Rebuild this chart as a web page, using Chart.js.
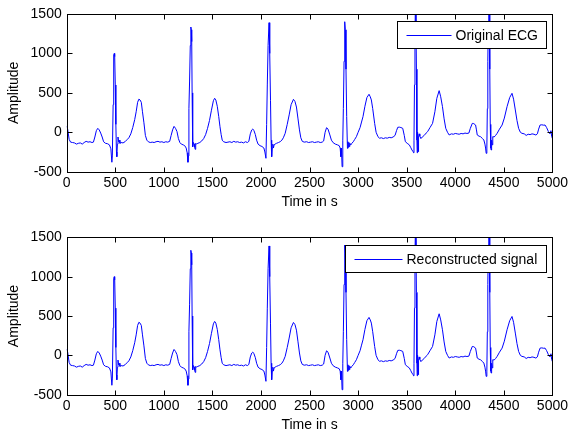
<!DOCTYPE html>
<html>
<head>
<meta charset="utf-8">
<script src="https://cdn.jsdelivr.net/npm/chart.js@4.4.0/dist/chart.umd.min.js"></script>
<style>
  body { margin: 0; background: #fff; }
  canvas { position: absolute; left: 0; }
</style>
</head>
<body>
<canvas id="topPlot" width="571" height="218" style="top:0"></canvas>
<canvas id="bottomPlot" width="571" height="218" style="top:218px"></canvas>
<script>
// sample positions (s)
const timeS = [
  0, 10, 25, 40, 60, 80, 100, 120, 140, 160, 180, 200, 220, 240, 260, 275, 290, 305, 320, 335, 350, 365, 380, 400, 420, 440, 455, 465, 470,
  478, 484, 490, 494, 500, 506, 512, 516, 522, 528, 534, 540, 548, 560, 580, 600, 620, 640, 660, 680, 700, 715, 730, 743, 755, 768, 780, 795, 810, 825, 840, 860, 880, 900, 920, 940, 960, 980, 1000, 1020, 1040, 1060, 1075, 1090, 1105, 1120, 1135, 1150, 1165, 1180, 1200, 1215, 1230, 1240, 1248, 1253,
  1258, 1265, 1272, 1278, 1283, 1287, 1291, 1295, 1299, 1305, 1312, 1318, 1322, 1328, 1335, 1350, 1370, 1390, 1410, 1430, 1450, 1470, 1490, 1510, 1523, 1535, 1550, 1565, 1578, 1590, 1601, 1615, 1640, 1660, 1680, 1700, 1720, 1740, 1760, 1780, 1800, 1820, 1840, 1860, 1875, 1890, 1905, 1915, 1928, 1942, 1955, 1970, 1990, 2010, 2030, 2040, 2051,
  2058, 2065, 2073, 2083, 2088, 2092, 2098, 2104, 2110, 2116, 2122, 2128, 2135, 2145, 2160, 2180, 2198, 2215, 2230, 2249, 2270, 2290, 2310, 2334, 2350, 2365, 2380, 2396, 2410, 2425, 2445, 2470, 2490, 2510, 2530, 2550, 2570, 2590, 2610, 2630, 2645, 2660, 2675, 2690, 2709, 2725, 2743, 2765, 2788, 2805, 2815, 2822, 2828, 2835,
  2842, 2848, 2855, 2862, 2868, 2875, 2882, 2890, 2895, 2900, 2905, 2910, 2915, 2925, 2935, 2950, 2965, 2982, 3000, 3020, 3035, 3050, 3070, 3090, 3112, 3125, 3136, 3150, 3170, 3185, 3204, 3220, 3240, 3260, 3280, 3300, 3320, 3340, 3360, 3380, 3395, 3408, 3425, 3440, 3459, 3475, 3486, 3505, 3527, 3540, 3554, 3563, 3571,
  3575, 3580, 3585, 3590, 3595, 3600, 3605, 3608, 3612, 3617, 3620, 3624, 3628, 3635, 3646, 3660, 3680, 3700, 3715, 3740, 3766, 3790, 3810, 3834, 3850, 3868, 3885, 3902, 3920, 3937, 3960, 3980, 4000, 4020, 4040, 4060, 4080, 4100, 4120, 4140, 4155, 4175, 4190, 4209, 4218, 4226, 4245, 4260, 4280, 4294, 4305, 4312, 4318, 4325,
  4330, 4335, 4340, 4345, 4350, 4355, 4360, 4365, 4369, 4374, 4380, 4386, 4400, 4415, 4431, 4455, 4482, 4505, 4533, 4560, 4584, 4600, 4618, 4635, 4652, 4670, 4686, 4710, 4730, 4750, 4770, 4790, 4810, 4830, 4845, 4858, 4873, 4890, 4910, 4924, 4940, 4959, 4975, 4985, 4992, 5000
];

const originalEcg = [
  80, 40, -90, -125, -130, -135, -150, -140, -135, -150, -130, -115, -125, -120, -130, -125, -60, 20, 50, 30, -10, -60, -120, -140, -145, -160, -210, -380, -300,
  350, 980, 1000, 960, 600, 100, -250, -310, -150, -60, -120, -100, -140, -130, -135, -120, -95, -70, -20, 60, 160, 260, 380, 420, 410, 380, 260, 120, -40, -100, -120, -130, -125, -130, -120, -115, -125, -120, -130, -120, -125, -115, -40, 30, 75, 50, 10, -80, -130, -150, -160, -170, -200, -260, -380, -300,
  300, 650, 1100, 1335, 1300, 1150, 500, -50, -184, -130, -150, -190, -216, -140, -150, -140, -130, -110, -80, -30, 50, 150, 280, 400, 431, 410, 330, 200, 70, -30, -100, -120, -130, -125, -120, -130, -115, -125, -120, -130, -125, -135, -120, -130, -115, -20, 30, 42, 20, -30, -100, -150, -170, -180, -200, -250, -330,
  100, 600, 1100, 1390, 1350, 1000, 400, -100, -310, -200, -150, -200, -160, -150, -140, -130, -119, -100, -70, -13, 100, 220, 350, 418, 390, 320, 180, 30, -70, -115, -125, -120, -130, -125, -120, -130, -125, -120, -130, -125, -110, 0, 58, 40, -34, -100, -132, -150, -160, -170, -200, -310, -200, -437,
  -100, 300, 900, 1402, 1300, 800, 200, -204, -120, -190, -130, -180, -140, -160, -140, -120, -90, -56, 0, 60, 130, 198, 330, 440, 482, 450, 410, 300, 113, 0, -56, -75, -70, -80, -70, -75, -65, -70, -60, -40, 20, 63, 65, 60, 50, -40, -119, -140, -160, -190, -225, -240, -260,
  -100, 600, 1250, 1650, 1400, 800, -100, -260, 0, -150, -246, -60, -20, -50, -80, -60, -40, -10, 8, 60, 113, 260, 430, 528, 450, 325, 170, 50, 0, -34, -20, -25, -15, -20, -25, -15, -20, -10, -15, -10, 50, 113, 110, 92, 30, -34, -50, -55, -80, -98, -150, -200, -267, -200,
  300, 900, 1400, 1650, 1500, 800, 100, -200, -225, -100, -160, -55, -60, -40, -13, 40, 92, 180, 325, 440, 494, 420, 283, 150, 50, 0, -13, -20, -40, -25, -30, -20, -25, -35, -20, 40, 92, 95, 90, 92, 60, 8, -20, 20, -50, -80
];

// the reconstruction is indistinguishable from the original at this scale
const reconstructedEcg = originalEcg.slice();

const xTicks = [0, 500, 1000, 1500, 2000, 2500, 3000, 3500, 4000, 4500, 5000];
const yTicks = [-500, 0, 500, 1000, 1500];

const FONT = { family: "'Liberation Sans', Arial, sans-serif", size: 14 };

// matlab-style frame: box on, ticks pointing inwards, legend in the top right corner
const matlabBox = {
  id: 'matlabBox',
  afterDraw(chart, args, opts) {
    const { ctx, chartArea: a, scales: { x, y } } = chart;
    const L = Math.round(a.left) + 0.5, R = Math.round(a.right) + 0.5;
    const T = Math.round(a.top) + 0.5, B = Math.round(a.bottom) + 0.5;
    ctx.save();
    ctx.strokeStyle = '#000';
    ctx.lineWidth = 1;
    ctx.strokeRect(L, T, R - L, B - T);
    ctx.beginPath();
    x.ticks.forEach(t => {
      const p = Math.round(x.getPixelForValue(t.value)) + 0.5;
      ctx.moveTo(p, B); ctx.lineTo(p, B - 5);
      ctx.moveTo(p, T); ctx.lineTo(p, T + 5);
    });
    y.ticks.forEach(t => {
      const p = Math.round(y.getPixelForValue(t.value)) + 0.5;
      ctx.moveTo(L, p); ctx.lineTo(L + 5, p);
      ctx.moveTo(R, p); ctx.lineTo(R - 5, p);
    });
    ctx.stroke();

    // legend
    const ds = chart.data.datasets[0];
    ctx.font = FONT.size + 'px ' + FONT.family;
    const tw = ctx.measureText(ds.label).width;
    const w = Math.round(tw + opts.lead + 9), h = 27;
    const bx = Math.round(a.right - 6 - w) + 0.5, by = Math.round(a.top + opts.dy) + 0.5;
    ctx.fillStyle = '#fff';
    ctx.fillRect(bx, by, w, h);
    ctx.strokeRect(bx, by, w, h);
    const my = Math.round(by + h / 2) + 0.5;
    ctx.strokeStyle = ds.borderColor;
    ctx.beginPath();
    ctx.moveTo(bx + 9, my); ctx.lineTo(bx + opts.lead - 4, my);
    ctx.stroke();
    ctx.fillStyle = '#000';
    ctx.textBaseline = 'middle';
    ctx.fillText(ds.label, bx + opts.lead, by + h / 2 + 1);
    ctx.restore();
  }
};

function makePlot(id, label, values, top, padBottom, lead, dy) {
  return new Chart(document.getElementById(id), {
    type: 'line',
    data: {
      datasets: [{
        label: label,
        data: timeS.map((t, i) => ({ x: t, y: values[i] })),
        borderColor: '#0000ff',
        borderWidth: 1,
        pointRadius: 0,
        tension: 0,
        fill: false
      }]
    },
    options: {
      responsive: false,
      animation: false,
      events: [],
      layout: { padding: { top: top, right: 15.3, bottom: padBottom, left: 0 } },
      plugins: {
        legend: { display: false },
        tooltip: { enabled: false },
        matlabBox: { lead: lead, dy: dy }
      },
      scales: {
        x: {
          type: 'linear',
          min: 0,
          max: 5000,
          afterBuildTicks: s => { s.ticks = xTicks.map(v => ({ value: v })); },
          afterFit: s => { s.height = 38.4; },
          grid: { display: false, drawTicks: false },
          border: { display: false },
          ticks: { padding: 3, color: '#000', font: FONT, maxRotation: 0, autoSkip: false, callback: v => String(v) },
          title: { display: true, text: 'Time in s', color: '#000', font: FONT, padding: 0 }
        },
        y: {
          type: 'linear',
          min: -500,
          max: 1500,
          afterBuildTicks: s => { s.ticks = yTicks.map(v => ({ value: v })); },
          afterFit: s => { s.width = 66.7; },
          grid: { display: false, drawTicks: false },
          border: { display: false },
          ticks: { padding: 5, color: '#000', font: FONT, callback: v => String(v) },
          title: { display: true, text: 'Amplitude', color: '#000', font: FONT, padding: { top: 5.4, bottom: 0 } }
        }
      }
    },
    plugins: [matlabBox]
  });
}

makePlot('topPlot', 'Original ECG', originalEcg, 14, 7.9, 58, 7);
makePlot('bottomPlot', 'Reconstructed signal', reconstructedEcg, 19.3, 2.9, 61, 7.7);
</script>
</body>
</html>
